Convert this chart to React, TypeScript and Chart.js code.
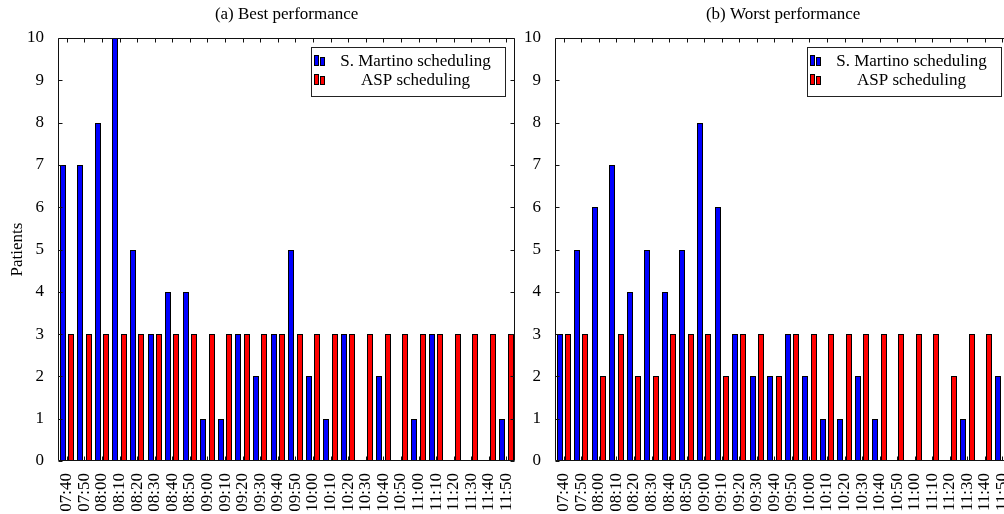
import React, { useEffect, useRef } from "react";
import { Chart, registerables } from "chart.js";

Chart.register(...registerables);

const times = ["07:40","07:50","08:00","08:10","08:20","08:30","08:40","08:50","09:00","09:10","09:20","09:30","09:40","09:50","10:00","10:10","10:20","10:30","10:40","10:50","11:00","11:10","11:20","11:30","11:40","11:50"];

const bestMartino = [7,7,8,10,5,3,4,4,1,1,3,2,3,5,2,1,3,0,2,0,1,3,0,0,0,1];
const bestAsp = [3,3,3,3,3,3,3,3,3,3,3,3,3,3,3,3,3,3,3,3,3,3,3,3,3,3];
const worstMartino = [3,5,6,7,4,5,4,5,8,6,3,2,2,3,2,1,1,2,1,0,0,0,0,1,0,2];
const worstAsp = [3,3,2,3,2,2,3,3,3,2,3,3,2,3,3,3,3,3,3,3,3,3,2,3,3,3];

const seriesNames = ["S. Martino scheduling", "ASP scheduling"];
const seriesColors = ["#0000ff", "#ff0000"];
const yMin = 0;
const yMax = 10;

const FONT = "'Liberation Serif', 'Times New Roman', serif";

// snap bars to whole pixels so the outlines stay crisp
const snapPlugin = {
  id: "snapBars",
  afterDatasetsUpdate(chart: any) {
    chart.data.datasets.forEach((_: any, di: number) => {
      const meta = chart.getDatasetMeta(di);
      meta.data.forEach((el: any) => {
        const w = el.width;
        const l = Math.round(el.x - w / 2);
        el.x = l + w / 2;
        el.y = Math.round(el.y);
        el.base = Math.round(el.base);
      });
    });
  },
};

const framePlugin = {
  id: "frameAndKey",
  afterDraw(chart: any, _args: any, opts: any) {
    const { ctx, chartArea, scales } = chart;
    const { left, right, top, bottom } = chartArea;
    const xs = scales.x;
    const ys = scales.y;
    ctx.save();

    // panel title centred over the plot area
    ctx.font = "17px " + FONT;
    ctx.fillStyle = "#000";
    ctx.textAlign = "center";
    ctx.textBaseline = "middle";
    ctx.fillText(opts.title, (left + right) / 2, 15);

    ctx.strokeStyle = "#111";
    ctx.lineWidth = 1;
    const L = Math.round(left) + 0.5;
    const R = Math.round(right) - 0.5;
    const T = Math.round(top) + 0.5;
    const B = Math.round(bottom) - 0.5;
    ctx.beginPath();
    ctx.rect(L, T, R - L, B - T);
    const tl = 4;
    for (let v = yMin; v <= yMax; v++) {
      const py = Math.round(ys.getPixelForValue(v)) + 0.5;
      ctx.moveTo(L, py); ctx.lineTo(L + tl, py);
      ctx.moveTo(R, py); ctx.lineTo(R - tl, py);
    }
    for (let i = 0; i < times.length; i++) {
      const px = Math.round(xs.getPixelForValue(i)) + 0.5;
      ctx.moveTo(px, B); ctx.lineTo(px, B - tl);
      ctx.moveTo(px, T); ctx.lineTo(px, T + tl);
    }
    ctx.stroke();

    // key box
    const bx1 = Math.round(right) - 203.5;
    const bx2 = Math.round(right) - 9.5;
    const by1 = Math.round(top) + 9.5;
    const by2 = Math.round(top) + 58.5;
    ctx.fillStyle = "#fff";
    ctx.fillRect(bx1, by1, bx2 - bx1, by2 - by1);
    ctx.strokeStyle = "#222";
    ctx.strokeRect(bx1, by1, bx2 - bx1, by2 - by1);
    const rows = [by1 + 13, by1 + 32];
    ctx.textAlign = "center";
    for (let r = 0; r < 2; r++) {
      const cy = Math.round(rows[r]);
      ctx.fillStyle = seriesColors[r];
      ctx.strokeStyle = "#000";
      ctx.fillRect(bx1 + 3, cy - 5.5, 4, 10);
      ctx.strokeRect(bx1 + 3, cy - 5.5, 4, 10);
      ctx.fillRect(bx1 + 9, cy - 3.5, 4, 8);
      ctx.strokeRect(bx1 + 9, cy - 3.5, 4, 8);
      ctx.fillStyle = "#000";
      ctx.fillText(chart.data.datasets[r].label, bx1 + 104, cy + 1);
    }
    ctx.restore();
  },
};

function makeConfig(title: string, martino: number[], asp: number[], yWidth: number, showYTitle: boolean): any {
  return {
    type: "bar",
    data: {
      labels: times,
      datasets: [
        { label: seriesNames[0], data: martino, backgroundColor: seriesColors[0], borderColor: "#000", borderWidth: 1, borderSkipped: false },
        { label: seriesNames[1], data: asp, backgroundColor: seriesColors[1], borderColor: "#000", borderWidth: 1, borderSkipped: false },
      ],
    },
    options: {
      responsive: false,
      maintainAspectRatio: false,
      animation: false,
      devicePixelRatio: 1,
      layout: { padding: { left: 0, right: 6, top: 38, bottom: 0 } },
      datasets: { bar: { categoryPercentage: 0.95, barPercentage: 0.8, maxBarThickness: 6 } },
      plugins: {
        legend: { display: false },
        tooltip: { enabled: false },
        title: { display: false },
        frameAndKey: { title },
      },
      scales: {
        x: {
          grid: { display: false },
          border: { display: false },
          ticks: {
            autoSkip: false,
            maxRotation: 90,
            minRotation: 90,
            padding: 4,
            color: "#000",
            font: { family: FONT, size: 17 },
          },
          afterFit(scale: any) { scale.height = 53; },
        },
        y: {
          min: yMin,
          max: yMax,
          grid: { display: false },
          border: { display: false },
          ticks: {
            stepSize: 1,
            padding: 6,
            color: "#000",
            font: { family: FONT, size: 17 },
          },
          title: {
            display: showYTitle,
            text: "Patients",
            color: "#000",
            font: { family: FONT, size: 17 },
            padding: { top: 7, bottom: 0 },
          },
          afterFit(scale: any) { scale.width = yWidth; },
        },
      },
    },
    plugins: [snapPlugin, framePlugin],
  };
}

function BarChart(props: { cfg: () => any; width: number; height: number; left: number }) {
  const ref = useRef<HTMLCanvasElement | null>(null);
  useEffect(() => {
    if (!ref.current) return;
    const chart = new Chart(ref.current, props.cfg());
    return () => chart.destroy();
  }, []);
  return (
    <canvas
      ref={ref}
      width={props.width}
      height={props.height}
      style={{ position: "absolute", left: props.left, top: 0, width: props.width, height: props.height, display: "block" }}
    />
  );
}

export default function App() {
  return (
    <div style={{ position: "fixed", left: 0, top: 0, width: 1004, height: 514, overflow: "hidden", background: "#fff" }}>
      <BarChart left={0} width={531} height={514} cfg={() => makeConfig("(a) Best performance", bestMartino, bestAsp, 58, true)} />
      <BarChart left={520} width={507} height={514} cfg={() => makeConfig("(b) Worst performance", worstMartino, worstAsp, 35, false)} />
    </div>
  );
}
